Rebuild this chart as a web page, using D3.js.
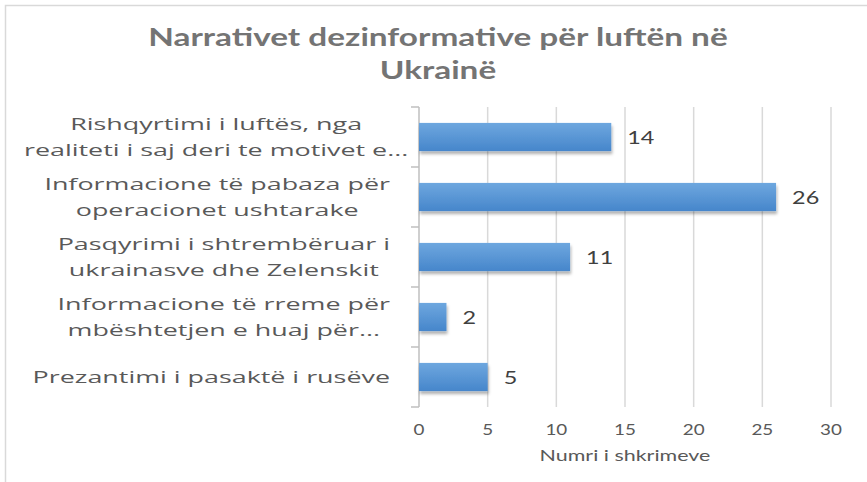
<!DOCTYPE html>
<html>
<head>
<meta charset="utf-8">
<script src="https://cdn.jsdelivr.net/npm/d3@7"></script>
<style>
body { margin: 0; background: #fff; }
text { font-family: Lato, "Open Sans", sans-serif; }
.cat { font-family: "Open Sans", Lato, sans-serif; }
</style>
</head>
<body>
<svg id="chart" width="867" height="482"></svg>
<script>
// Data
var categories = [
    ["Rishqyrtimi i luftës, nga", "realiteti i saj deri te motivet e..."],
    ["Informacione të pabaza për", "operacionet ushtarake"],
    ["Pasqyrimi i shtrembëruar i", "ukrainasve dhe Zelenskit"],
    ["Informacione të rreme për", "mbështetjen e huaj për..."],
    ["Prezantimi i pasaktë i rusëve"]
];
var values = [14, 26, 11, 2, 5];
var xTicks = [0, 5, 10, 15, 20, 25, 30];
var titleLines = ["Narrativet dezinformative për luftën në", "Ukrainë"];
var xTitle = "Numri i shkrimeve";

// Layout
var W = 867, H = 482;
var plot = {left: 419, right: 831, top: 107, bottom: 407};
// the source picture is widened horizontally, so text gets stretched
var stretchTitle = 1.36;
var stretchCat = 1.58;
var stretchNum = 1.3;
var stretchAxisTitle = 1.43;
var svg = d3.select("#chart");

var x = d3.scaleLinear().domain([0, 30]).range([plot.left, plot.right]);
var y = d3.scaleBand()
    .domain(categories.map(function(d, i){ return i; }))
    .range([plot.top, plot.bottom])
    .paddingInner(0.53)
    .paddingOuter(0.265);

init();

function init(){
    setDefs();
    setFrame();
    setTitle();
    setGrid();
    setBars();
    setCategoryLabels();
    setXAxis();
}

function stretch(sel, k){
    sel.each(function(){
        var w = this.getComputedTextLength();
        d3.select(this).attr('textLength', w * k).attr('lengthAdjust', 'spacingAndGlyphs');
    });
}

function setDefs(){
    var defs = svg.append('defs');
    var g = defs.append('linearGradient').attr('id', 'barGrad')
        .attr('x1', 0).attr('y1', 0).attr('x2', 0).attr('y2', 1);
    g.append('stop').attr('offset', '0%').attr('stop-color', '#6ea7df');
    g.append('stop').attr('offset', '100%').attr('stop-color', '#4686cb');
    var f = defs.append('filter').attr('id', 'shadow')
        .attr('x', '-10%').attr('y', '-20%').attr('width', '130%').attr('height', '160%');
    f.append('feDropShadow').attr('dx', 1).attr('dy', 3).attr('stdDeviation', 1.8)
        .attr('flood-color', '#000').attr('flood-opacity', 0.3);
}

function setFrame(){
    svg.append('rect')
        .attr('x', 5.5).attr('y', 5.5)
        .attr('width', 900).attr('height', 520)
        .attr('fill', 'white')
        .attr('stroke', '#d9d9d9').attr('stroke-width', 1.5);
}

function setTitle(){
    var t = svg.selectAll('.title').data(titleLines).enter().append('text')
        .attr('class', 'title')
        .attr('x', 438)
        .attr('y', function(d, i){ return 46 + i * 33; })
        .attr('text-anchor', 'middle')
        .attr('font-size', 24.5)
        .attr('font-weight', 'bold')
        .attr('fill', '#747474')
        .text(function(d){ return d; });
    stretch(t, stretchTitle);
}

function setGrid(){
    svg.selectAll('.grid').data(xTicks.slice(1)).enter().append('line')
        .attr('x1', function(d){ return x(d); })
        .attr('x2', function(d){ return x(d); })
        .attr('y1', plot.top).attr('y2', plot.bottom)
        .attr('stroke', '#d9d9d9').attr('stroke-width', 1.5);

    // category axis line with small ticks at band edges
    svg.append('line')
        .attr('x1', x(0)).attr('x2', x(0))
        .attr('y1', plot.top).attr('y2', plot.bottom)
        .attr('stroke', '#bfbfbf').attr('stroke-width', 1.5);
    var edges = d3.range(categories.length + 1).map(function(i){ return plot.top + i * y.step(); });
    svg.selectAll('.ytick').data(edges).enter().append('line')
        .attr('x1', x(0) - 8).attr('x2', x(0))
        .attr('y1', function(d){ return d; }).attr('y2', function(d){ return d; })
        .attr('stroke', '#bfbfbf').attr('stroke-width', 1.5);
}

function setBars(){
    svg.selectAll('.bar').data(values).enter().append('rect')
        .attr('x', x(0))
        .attr('y', function(d, i){ return y(i); })
        .attr('width', function(d){ return x(d) - x(0); })
        .attr('height', y.bandwidth())
        .attr('fill', 'url(#barGrad)')
        .attr('filter', 'url(#shadow)');

    var v = svg.selectAll('.val').data(values).enter().append('text')
        .attr('x', function(d){ return x(d) + 16; })
        .attr('y', function(d, i){ return y(i) + y.bandwidth() / 2 + 7; })
        .attr('font-size', 18)
        .attr('fill', '#404040')
        .text(function(d){ return d; });
    stretch(v, stretchNum);
}

function setCategoryLabels(){
    var lineH = 26;
    categories.forEach(function(lines, i){
        var cy = y(i) + y.bandwidth() / 2;
        var g = svg.append('g');
        var t = g.selectAll('text').data(lines).enter().append('text')
            .attr('class', 'cat')
            .attr('x', 0)
            .attr('y', function(d, j){ return cy + 6 + (j - (lines.length - 1) / 2) * lineH; })
            .attr('text-anchor', 'middle')
            .attr('font-size', 17)
            .attr('fill', '#595959')
            .text(function(d){ return d; });
        stretch(t, stretchCat);
        var wMax = d3.max(t.nodes(), function(n){ return +n.getAttribute('textLength'); });
        var cx = Math.max(24 + wMax / 2, 390 - wMax / 2);
        t.attr('x', cx);
    });
}

function setXAxis(){
    var t = svg.selectAll('.xtick').data(xTicks).enter().append('text')
        .attr('x', function(d){ return x(d); })
        .attr('y', 435)
        .attr('text-anchor', 'middle')
        .attr('font-size', 14.5)
        .attr('fill', '#595959')
        .text(function(d){ return d; });
    stretch(t, stretchNum);

    var at = svg.append('text')
        .attr('x', (plot.left + plot.right) / 2)
        .attr('y', 461)
        .attr('text-anchor', 'middle')
        .attr('font-size', 15)
        .attr('fill', '#595959')
        .text(xTitle);
    stretch(at, stretchAxisTitle);
}
</script>
</body>
</html>
